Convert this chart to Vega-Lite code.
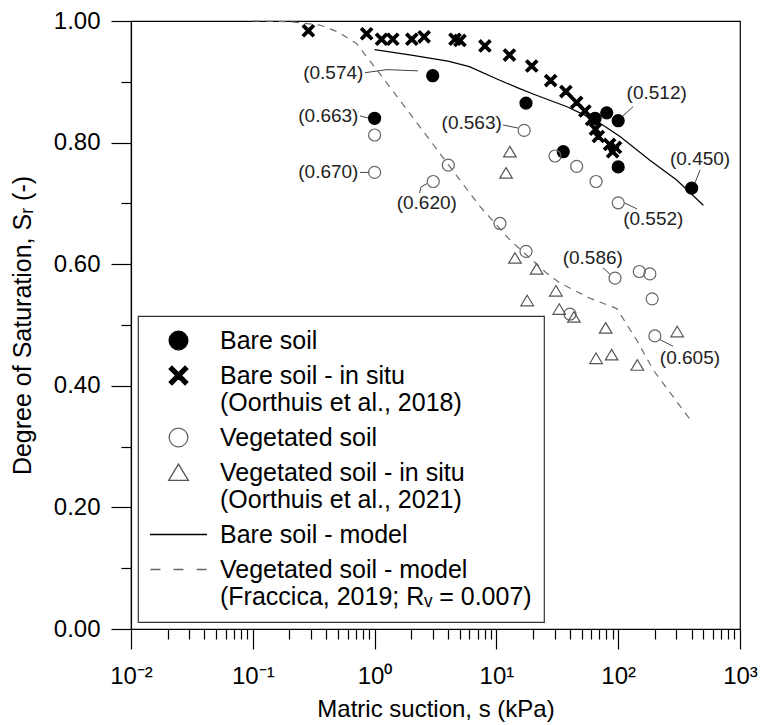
{
  "$schema": "https://vega.github.io/schema/vega-lite/v6.json",
  "width": 609,
  "height": 608,
  "autosize": {"type": "none"},
  "padding": {"left": 131, "top": 21, "right": 21, "bottom": 96},
  "background": "white",
  "config": {
    "view": {"stroke": "black", "strokeWidth": 1.2},
    "font": "Liberation Sans",
    "axis": {
      "grid": false,
      "domainColor": "black",
      "domainWidth": 1.2,
      "tickColor": "black",
      "tickWidth": 1.2,
      "labelColor": "black",
      "titleColor": "black",
      "labelFont": "Liberation Sans",
      "titleFont": "Liberation Sans",
      "labelFontSize": 24,
      "titleFontSize": 24,
      "titleFontWeight": "normal"
    },
    "legend": {
      "orient": "bottom-left",
      "offset": 7,
      "padding": 12,
      "symbolOffset": 16,
      "symbolSize": 350,
      "symbolStrokeWidth": 1.3,
      "labelOffset": 29,
      "labelFont": "Liberation Sans",
      "labelFontSize": 25,
      "labelColor": "black",
      "labelLimit": 800,
      "rowPadding": 9,
      "strokeColor": "#333333",
      "strokeWidth": 1.2,
      "fillColor": "white"
    }
  },
  "datasets": {
    "vegmodel": [
      {"s": 0.1, "Sr": 1.0},
      {"s": 0.2, "Sr": 0.999},
      {"s": 0.36, "Sr": 0.993},
      {"s": 0.5, "Sr": 0.982},
      {"s": 0.71, "Sr": 0.963},
      {"s": 1.107, "Sr": 0.913},
      {"s": 2.066, "Sr": 0.841},
      {"s": 4.16, "Sr": 0.760},
      {"s": 7.33, "Sr": 0.695},
      {"s": 12.9, "Sr": 0.640},
      {"s": 25.9, "Sr": 0.585},
      {"s": 33.3, "Sr": 0.569},
      {"s": 58.6, "Sr": 0.544},
      {"s": 97.3, "Sr": 0.527},
      {"s": 142, "Sr": 0.475},
      {"s": 194, "Sr": 0.426},
      {"s": 401, "Sr": 0.341}
    ],
    "baremodel": [
      {"s": 1.0, "Sr": 0.953},
      {"s": 2.0, "Sr": 0.944},
      {"s": 4.0, "Sr": 0.934},
      {"s": 6.0, "Sr": 0.925},
      {"s": 10.0, "Sr": 0.905},
      {"s": 15.0, "Sr": 0.890},
      {"s": 20.0, "Sr": 0.880},
      {"s": 38.0, "Sr": 0.859},
      {"s": 52.0, "Sr": 0.846},
      {"s": 71.0, "Sr": 0.832},
      {"s": 103.5, "Sr": 0.810},
      {"s": 182, "Sr": 0.771},
      {"s": 302, "Sr": 0.7385},
      {"s": 500, "Sr": 0.697}
    ],
    "leaders": [
      {"id": "a", "s": 0.834, "Sr": 0.915},
      {"id": "a", "s": 1.264, "Sr": 0.920},
      {"id": "a", "s": 2.272, "Sr": 0.918},
      {"id": "b", "s": 0.759, "Sr": 0.844},
      {"id": "b", "s": 0.90, "Sr": 0.840},
      {"id": "c", "s": 0.759, "Sr": 0.751},
      {"id": "c", "s": 0.908, "Sr": 0.751},
      {"id": "d", "s": 2.717, "Sr": 0.733},
      {"id": "d", "s": 2.404, "Sr": 0.727},
      {"id": "d", "s": 2.339, "Sr": 0.717},
      {"id": "e", "s": 11.3, "Sr": 0.829},
      {"id": "e", "s": 15.0, "Sr": 0.824},
      {"id": "f", "s": 109.4, "Sr": 0.844},
      {"id": "f", "s": 132.4, "Sr": 0.859},
      {"id": "g", "s": 427.6, "Sr": 0.734},
      {"id": "g", "s": 469.8, "Sr": 0.755},
      {"id": "h", "s": 111.7, "Sr": 0.701},
      {"id": "h", "s": 142.6, "Sr": 0.691},
      {"id": "i", "s": 75.0, "Sr": 0.594},
      {"id": "i", "s": 87.3, "Sr": 0.582},
      {"id": "j", "s": 220, "Sr": 0.476},
      {"id": "j", "s": 281.8, "Sr": 0.465}
    ],
    "labels": [
      {"s": 0.458, "Sr": 0.915, "t": "(0.574)"},
      {"s": 0.417, "Sr": 0.844, "t": "(0.663)"},
      {"s": 0.417, "Sr": 0.751, "t": "(0.670)"},
      {"s": 2.68, "Sr": 0.701, "t": "(0.620)"},
      {"s": 6.27, "Sr": 0.832, "t": "(0.563)"},
      {"s": 207, "Sr": 0.881, "t": "(0.512)"},
      {"s": 470, "Sr": 0.7725, "t": "(0.450)"},
      {"s": 194, "Sr": 0.674, "t": "(0.552)"},
      {"s": 61.8, "Sr": 0.611, "t": "(0.586)"},
      {"s": 388, "Sr": 0.445, "t": "(0.605)"}
    ],
    "pts": [
      {"g": "A", "s": 1.0, "Sr": 0.840},
      {"g": "A", "s": 3.0, "Sr": 0.910},
      {"g": "A", "s": 17.5, "Sr": 0.865},
      {"g": "A", "s": 35.4, "Sr": 0.785},
      {"g": "A", "s": 64.6, "Sr": 0.840},
      {"g": "A", "s": 80.5, "Sr": 0.849},
      {"g": "A", "s": 100, "Sr": 0.836},
      {"g": "A", "s": 100, "Sr": 0.760},
      {"g": "A", "s": 401, "Sr": 0.725},
      {"g": "B", "s": 0.286, "Sr": 0.984},
      {"g": "B", "s": 0.86, "Sr": 0.979},
      {"g": "B", "s": 1.14, "Sr": 0.970},
      {"g": "B", "s": 1.41, "Sr": 0.970},
      {"g": "B", "s": 2.02, "Sr": 0.970},
      {"g": "B", "s": 2.55, "Sr": 0.974},
      {"g": "B", "s": 4.57, "Sr": 0.970},
      {"g": "B", "s": 5.02, "Sr": 0.968},
      {"g": "B", "s": 8.05, "Sr": 0.959},
      {"g": "B", "s": 12.8, "Sr": 0.944},
      {"g": "B", "s": 19.5, "Sr": 0.926},
      {"g": "B", "s": 27.9, "Sr": 0.902},
      {"g": "B", "s": 37.2, "Sr": 0.884},
      {"g": "B", "s": 45.6, "Sr": 0.866},
      {"g": "B", "s": 53.3, "Sr": 0.852},
      {"g": "B", "s": 60.5, "Sr": 0.838},
      {"g": "B", "s": 65.0, "Sr": 0.822},
      {"g": "B", "s": 68.7, "Sr": 0.810},
      {"g": "B", "s": 85.0, "Sr": 0.797},
      {"g": "B", "s": 90.0, "Sr": 0.785},
      {"g": "B", "s": 95.0, "Sr": 0.792},
      {"g": "C", "s": 1.0, "Sr": 0.8125},
      {"g": "C", "s": 1.0, "Sr": 0.751},
      {"g": "C", "s": 3.03, "Sr": 0.736},
      {"g": "C", "s": 4.03, "Sr": 0.763},
      {"g": "C", "s": 10.7, "Sr": 0.667},
      {"g": "C", "s": 16.9, "Sr": 0.820},
      {"g": "C", "s": 30.3, "Sr": 0.778},
      {"g": "C", "s": 45.6, "Sr": 0.761},
      {"g": "C", "s": 65.8, "Sr": 0.736},
      {"g": "C", "s": 100, "Sr": 0.701},
      {"g": "C", "s": 17.5, "Sr": 0.621},
      {"g": "C", "s": 40.2, "Sr": 0.518},
      {"g": "C", "s": 94.2, "Sr": 0.577},
      {"g": "C", "s": 149, "Sr": 0.588},
      {"g": "C", "s": 182, "Sr": 0.584},
      {"g": "C", "s": 190, "Sr": 0.543},
      {"g": "C", "s": 200, "Sr": 0.482},
      {"g": "D", "s": 12.9, "Sr": 0.785},
      {"g": "D", "s": 12.0, "Sr": 0.750},
      {"g": "D", "s": 14.2, "Sr": 0.610},
      {"g": "D", "s": 21.4, "Sr": 0.592},
      {"g": "D", "s": 30.8, "Sr": 0.556},
      {"g": "D", "s": 17.9, "Sr": 0.540},
      {"g": "D", "s": 32.8, "Sr": 0.526},
      {"g": "D", "s": 43.3, "Sr": 0.513},
      {"g": "D", "s": 78.9, "Sr": 0.495},
      {"g": "D", "s": 65.8, "Sr": 0.445},
      {"g": "D", "s": 88.3, "Sr": 0.451},
      {"g": "D", "s": 143.5, "Sr": 0.434},
      {"g": "D", "s": 305, "Sr": 0.489}
    ]
  },
  "layer": [
    {
      "data": {"name": "vegmodel"},
      "mark": {"type": "line", "color": "#6e6e6e", "strokeWidth": 1.2, "strokeDash": [7, 6]},
      "encoding": {
        "x": {
          "field": "s", "type": "quantitative",
          "scale": {"type": "log", "domain": [0.01, 1000], "nice": false},
          "axis": {
            "orient": "bottom",
            "values": [0.01, 0.1, 1, 10, 100, 1000],
            "labelExpr": "datum.value < 0.05 ? '10⁻²' : datum.value < 0.5 ? '10⁻¹' : datum.value < 5 ? '10⁰' : datum.value < 50 ? '10¹' : datum.value < 500 ? '10²' : '10³'",
            "tickSize": 20,
            "labelPadding": 15,
            "labelFlush": false,
            "labelOverlap": false,
            "title": "Matric suction, s (kPa)",
            "titlePadding": 9
          }
        },
        "y": {
          "field": "Sr", "type": "quantitative",
          "scale": {"domain": [0, 1], "nice": false},
          "axis": {
            "orient": "left",
            "values": [0, 0.2, 0.4, 0.6, 0.8, 1.0],
            "format": ".2f",
            "tickSize": 20,
            "labelPadding": 11,
            "labelFlush": false,
            "labelOverlap": false,
            "title": "Degree of Saturation, Sᵣ (-)",
            "titleFontSize": 25,
            "titlePadding": 18
          }
        }
      }
    },
    {
      "data": {"name": "baremodel"},
      "mark": {"type": "line", "color": "black", "strokeWidth": 1.2},
      "encoding": {
        "x": {
          "field": "s", "type": "quantitative",
          "scale": {"type": "log", "domain": [0.01, 1000], "nice": false},
          "axis": {
            "orient": "bottom",
            "values": [0.02, 0.03, 0.04, 0.05, 0.06, 0.07, 0.08, 0.09, 0.2, 0.3, 0.4, 0.5, 0.6, 0.7, 0.8, 0.9, 2, 3, 4, 5, 6, 7, 8, 9, 20, 30, 40, 50, 60, 70, 80, 90, 200, 300, 400, 500, 600, 700, 800, 900],
            "tickSize": 10,
            "labels": false,
            "domain": false,
            "title": null
          }
        },
        "y": {
          "field": "Sr", "type": "quantitative",
          "scale": {"domain": [0, 1], "nice": false},
          "axis": {
            "orient": "left",
            "values": [0.1, 0.3, 0.5, 0.7, 0.9],
            "tickSize": 10,
            "labels": false,
            "domain": false,
            "title": null
          }
        }
      }
    },
    {
      "data": {"name": "leaders"},
      "mark": {"type": "line", "color": "#444444", "strokeWidth": 1},
      "encoding": {
        "x": {"field": "s", "type": "quantitative", "scale": {"type": "log", "domain": [0.01, 1000], "nice": false}, "axis": null},
        "y": {"field": "Sr", "type": "quantitative", "scale": {"domain": [0, 1], "nice": false}, "axis": null},
        "detail": {"field": "id"}
      }
    },
    {
      "data": {"name": "pts"},
      "mark": {"type": "point", "size": 144, "strokeWidth": 1.2, "opacity": 1},
      "encoding": {
        "x": {"field": "s", "type": "quantitative", "scale": {"type": "log", "domain": [0.01, 1000], "nice": false}, "axis": null},
        "y": {"field": "Sr", "type": "quantitative", "scale": {"domain": [0, 1], "nice": false}, "axis": null},
        "shape": {
          "field": "g", "type": "nominal",
          "scale": {
            "domain": ["A", "B", "C", "D", "E", "F"],
            "range": ["circle", "M-0.7,-1L0,-0.3L0.7,-1L1,-0.7L0.3,0L1,0.7L0.7,1L0,0.3L-0.7,1L-1,0.7L-0.3,0L-1,-0.7Z", "circle", "M0,-0.9L1.05,0.85L-1.05,0.85Z", "M-3.05,0H3.05", "M-3,0H-1.93M-0.53,0H0.53M1.93,0H3"]
          },
          "legend": {
            "title": null,
            "labelExpr": "datum.label == 'A' ? 'Bare soil' : datum.label == 'B' ? ['Bare soil - in situ', '(Oorthuis et al., 2018)'] : datum.label == 'C' ? 'Vegetated soil' : datum.label == 'D' ? ['Vegetated soil - in situ', '(Oorthuis et al., 2021)'] : datum.label == 'E' ? 'Bare soil - model' : ['Vegetated soil - model', '(Fraccica, 2019; Rᵥ = 0.007)']"
          }
        },
        "fill": {
          "field": "g", "type": "nominal",
          "scale": {
            "domain": ["A", "B", "C", "D", "E", "F"],
            "range": ["black", "black", "transparent", "transparent", "transparent", "transparent"]
          },
          "legend": {
            "title": null,
            "labelExpr": "datum.label == 'A' ? 'Bare soil' : datum.label == 'B' ? ['Bare soil - in situ', '(Oorthuis et al., 2018)'] : datum.label == 'C' ? 'Vegetated soil' : datum.label == 'D' ? ['Vegetated soil - in situ', '(Oorthuis et al., 2021)'] : datum.label == 'E' ? 'Bare soil - model' : ['Vegetated soil - model', '(Fraccica, 2019; Rᵥ = 0.007)']"
          }
        },
        "stroke": {
          "field": "g", "type": "nominal",
          "scale": {
            "domain": ["A", "B", "C", "D", "E", "F"],
            "range": ["black", "black", "#666666", "#555555", "black", "#666666"]
          },
          "legend": {
            "title": null,
            "labelExpr": "datum.label == 'A' ? 'Bare soil' : datum.label == 'B' ? ['Bare soil - in situ', '(Oorthuis et al., 2018)'] : datum.label == 'C' ? 'Vegetated soil' : datum.label == 'D' ? ['Vegetated soil - in situ', '(Oorthuis et al., 2021)'] : datum.label == 'E' ? 'Bare soil - model' : ['Vegetated soil - model', '(Fraccica, 2019; Rᵥ = 0.007)']"
          }
        }
      }
    },
    {
      "data": {"name": "labels"},
      "mark": {"type": "text", "font": "Liberation Sans", "fontSize": 19, "color": "#222222", "align": "center", "baseline": "middle"},
      "encoding": {
        "x": {"field": "s", "type": "quantitative", "scale": {"type": "log", "domain": [0.01, 1000], "nice": false}, "axis": null},
        "y": {"field": "Sr", "type": "quantitative", "scale": {"domain": [0, 1], "nice": false}, "axis": null},
        "text": {"field": "t"}
      }
    }
  ],
  "resolve": {"axis": {"x": "independent", "y": "independent"}}
}
